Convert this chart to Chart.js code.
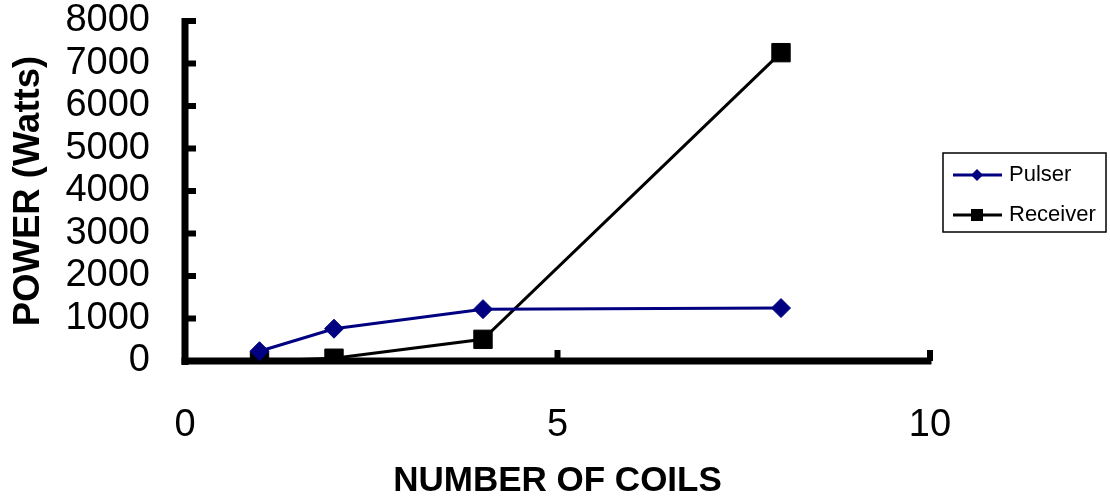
<!DOCTYPE html>
<html>
<head>
<meta charset="utf-8">
<script src="https://cdn.jsdelivr.net/npm/chart.js@4/dist/chart.umd.min.js"></script>
<style>
  html, body { margin: 0; padding: 0; background: #fff; }
  #wrap { width: 1110px; height: 502px; }
</style>
</head>
<body>
<div id="wrap"><canvas id="powerChart" width="1110" height="502"></canvas></div>
<script>
// coils vs power
const coils = [1, 2, 4, 8];
const pulserWatts = [230, 760, 1220, 1245];
const receiverWatts = [0, 65, 510, 7255];
const xTicks = [0, 5, 10];
const yTicks = [0, 1000, 2000, 3000, 4000, 5000, 6000, 7000, 8000];

const FONT = '"Liberation Sans", Arial, Helvetica, sans-serif';
const NAVY = '#000080';

const toPoints = (xs, ys) => xs.map((x, i) => ({ x: x, y: ys[i] }));

// thick axis lines with inward tick marks, like the old spreadsheet look
const axesPlugin = {
    id: 'oldAxes',
    beforeDatasetsDraw(chart) {
        const { ctx, scales: { x, y } } = chart;
        const x0 = x.getPixelForValue(0), y0 = y.getPixelForValue(0);
        const xEnd = x.getPixelForValue(10), yTop = y.getPixelForValue(8000);
        ctx.save();
        ctx.fillStyle = '#000';
        ctx.fillRect(x0 - 3.5, yTop - 3, 7, y0 - yTop + 7);
        ctx.fillRect(x0 - 3.5, y0 - 3.5, xEnd - x0 + 5, 7);
        yTicks.forEach(v => {
            const py = y.getPixelForValue(v);
            ctx.fillRect(x0, py - 3, 11, 6);
        });
        xTicks.forEach(v => {
            const px = x.getPixelForValue(v);
            ctx.fillRect(px - 3, y0 - 11, 6, 11);
        });
        ctx.restore();
    }
};

// boxed legend with line + marker samples
const legendPlugin = {
    id: 'boxLegend',
    afterDraw(chart) {
        const { ctx, chartArea } = chart;
        const left = chartArea.right + 13, top = 153, w = 163, h = 79;
        ctx.save();
        ctx.strokeStyle = '#000';
        ctx.lineWidth = 1.5;
        ctx.strokeRect(left, top, w, h);
        ctx.font = '22px ' + FONT;
        ctx.textBaseline = 'middle';
        chart.data.datasets.forEach((ds, i) => {
            const cy = top + 22 + i * 40;
            const lx = left + 10, rx = left + 59, mx = left + 34;
            ctx.strokeStyle = ds.borderColor;
            ctx.lineWidth = 3;
            ctx.beginPath();
            ctx.moveTo(lx, cy);
            ctx.lineTo(rx, cy);
            ctx.stroke();
            ctx.fillStyle = ds.pointBackgroundColor;
            ctx.beginPath();
            if (ds.pointStyle === 'rectRot') {
                ctx.moveTo(mx - 6, cy); ctx.lineTo(mx, cy - 6);
                ctx.lineTo(mx + 6, cy); ctx.lineTo(mx, cy + 6);
            } else {
                ctx.rect(mx - 6, cy - 6, 12, 12);
            }
            ctx.closePath();
            ctx.fill();
            ctx.fillStyle = '#000';
            ctx.fillText(ds.label, left + 66, cy);
        });
        ctx.restore();
    }
};

const noPad = s => { s.paddingTop = 0; s.paddingBottom = 0; s.paddingLeft = 0; s.paddingRight = 0; };

new Chart(document.getElementById('powerChart'), {
    type: 'scatter',
    data: {
        datasets: [
            {
                label: 'Pulser',
                data: toPoints(coils, pulserWatts),
                showLine: true,
                borderColor: NAVY,
                borderWidth: 3,
                pointStyle: 'rectRot',
                pointRadius: 9.5,
                pointBorderWidth: 1,
                pointBackgroundColor: NAVY,
                pointBorderColor: NAVY,
                tension: 0
            },
            {
                label: 'Receiver',
                data: toPoints(coils, receiverWatts),
                showLine: true,
                borderColor: '#000',
                borderWidth: 3,
                pointStyle: 'rect',
                pointRadius: 13,
                pointBorderWidth: 1,
                pointBackgroundColor: '#000',
                pointBorderColor: '#000',
                tension: 0
            }
        ]
    },
    options: {
        responsive: false,
        animation: false,
        layout: { padding: { top: 21, right: 180, bottom: 0, left: 0 } },
        plugins: {
            legend: { display: false },
            tooltip: { enabled: false }
        },
        scales: {
            x: {
                type: 'linear',
                min: 0, max: 10,
                afterBuildTicks: s => { s.ticks = xTicks.map(v => ({ value: v })); },
                afterFit: s => { s.height = 141; noPad(s); },
                grid: { display: false, drawTicks: false },
                border: { display: false },
                ticks: { color: '#000', font: { family: FONT, size: 38 }, padding: 42, maxRotation: 0, autoSkip: false, callback: v => String(v) },
                title: {
                    display: true,
                    text: 'NUMBER OF COILS',
                    color: '#000',
                    font: { family: FONT, size: 35, weight: 'bold' },
                    padding: { top: 0, bottom: 0 }
                }
            },
            y: {
                min: 0, max: 8000,
                afterBuildTicks: s => { s.ticks = yTicks.map(v => ({ value: v })); },
                afterFit: s => { s.width = 185; noPad(s); },
                grid: { display: false, drawTicks: false },
                border: { display: false },
                ticks: { color: '#000', font: { family: FONT, size: 38 }, padding: 35, autoSkip: false, callback: v => String(v) },
                title: {
                    display: true,
                    text: 'POWER (Watts)',
                    color: '#000',
                    font: { family: FONT, size: 36.5, weight: 'bold' },
                    padding: { top: 7, bottom: 0 }
                }
            }
        }
    },
    plugins: [axesPlugin, legendPlugin]
});
</script>
</body>
</html>
